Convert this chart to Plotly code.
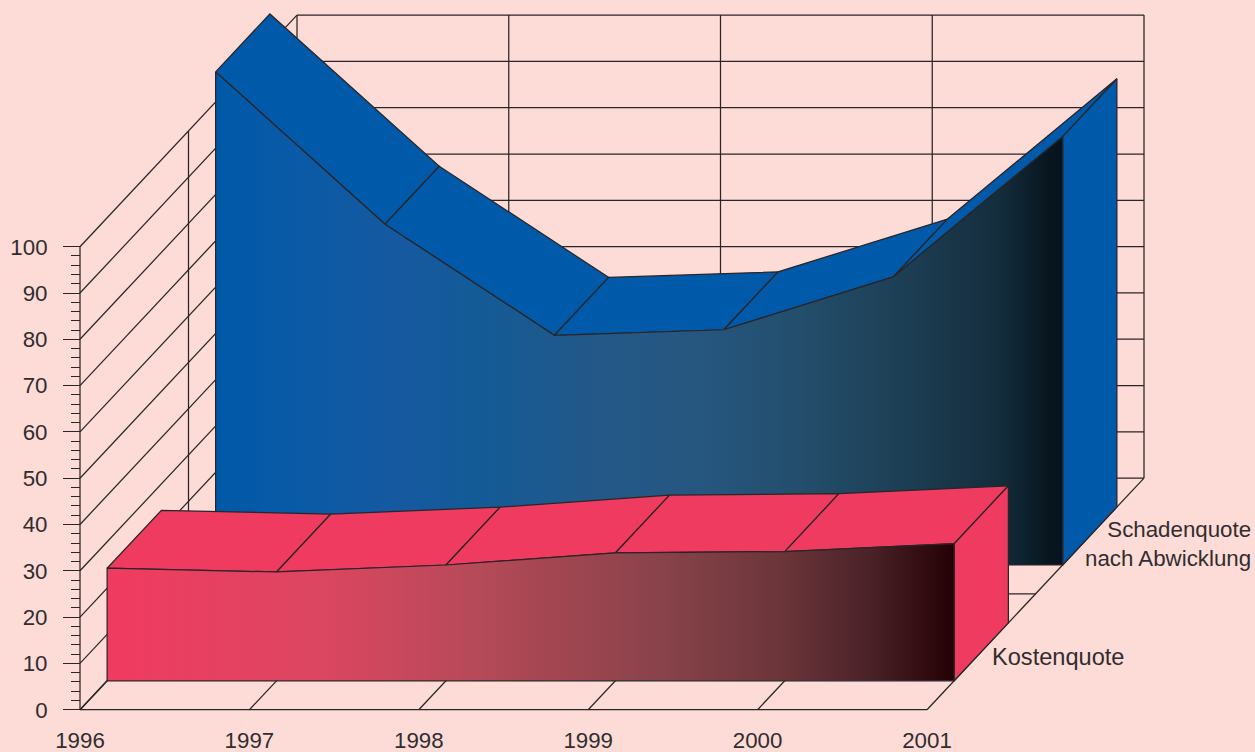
import plotly.graph_objects as go

# ---- data ----
years = [1996, 1997, 1998, 1999, 2000, 2001]
schadenquote = [106.5, 73.6, 49.6, 50.8, 62.2, 92.5]
kostenquote = [24.3, 23.5, 25.0, 27.6, 27.9, 29.6]
value_ticks = [0, 10, 20, 30, 40, 50, 60, 70, 80, 90, 100]
minor_ticks = [v for v in range(0, 101, 2) if v % 10]
series_label_schaden = "Schadenquote<br>nach Abwicklung"
series_label_kosten = "Kostenquote"

# ---- oblique 3-D projection onto the 2-D axes ----
W, H = 1255, 752
PX_YEAR, PX_VALUE = 169.4, 4.63
ORIGIN_X, ORIGIN_Y = 80.0, 709.7
DEPTH_X = 217 / PX_YEAR      # years of shift for full depth
DEPTH_Y = 231.6 / PX_VALUE   # value units of shift for full depth


def proj(year, value, depth):
    return year + depth * DEPTH_X, value + depth * DEPTH_Y


INK = "#2a2526"
BG = "#fddcd7"
BLUE = "#005aa9"
RED = "#f03b60"
BLUE_RAMP = [[0, "#0059a8"], [0.10, "#0a5aa6"], [0.22, "#1659a0"], [0.31, "#135b97"],
             [0.45, "#235888"], [0.57, "#26577f"], [0.69, "#234e6c"], [0.81, "#1d3f55"],
             [0.925, "#142d3d"], [0.985, "#08151f"], [1, "#051520"]]
RED_RAMP = [[0, "#f03b60"], [0.25, "#dc4660"], [0.45, "#b34a58"], [0.5, "#a84753"],
            [0.65, "#8a434b"], [0.8, "#6a3539"], [0.9, "#4a2228"], [1, "#240004"]]
LW = 1.25

fig = go.Figure()


def line3d(points, width=LW):
    xy = [proj(*p) for p in points]
    fig.add_trace(go.Scatter(x=[q[0] for q in xy], y=[q[1] for q in xy], mode="lines",
                             line=dict(color=INK, width=width), hoverinfo="skip", showlegend=False))


def poly3d(points, fillcolor=None, gradient=None):
    xy = [proj(*p) for p in points]
    xs = [q[0] for q in xy] + [xy[0][0]]
    ys = [q[1] for q in xy] + [xy[0][1]]
    kw = dict(fillgradient=dict(type="horizontal", colorscale=gradient)) if gradient else dict(fillcolor=fillcolor)
    fig.add_trace(go.Scatter(x=xs, y=ys, mode="lines", fill="toself",
                             line=dict(color=INK, width=LW), hoverinfo="skip", showlegend=False, **kw))


y0, y1 = years[0], years[-1]
vmin, vmax = value_ticks[0], value_ticks[-1]

# back wall
for v in value_ticks:
    line3d([(y0, v, 1), (y1, v, 1)])
for i in range(5):
    yr = y0 + (y1 - y0) * i / 4
    line3d([(yr, vmin, 1), (yr, vmax, 1)])
# left wall
for v in value_ticks:
    line3d([(y0, v, 0), (y0, v, 1)])
for d in (0, 0.5):
    line3d([(y0, vmin, d), (y0, vmax, d)])
# floor
for yr in years:
    line3d([(yr, 0, 0), (yr, 0, 1)])
for d in (0, 0.5):
    line3d([(y0, 0, d), (y1, 0, d)])


def area3d(values, d0, d1, face, ramp):
    # top faces, side face, then front face
    for k in range(len(years) - 1):
        poly3d([(years[k], values[k], d0), (years[k + 1], values[k + 1], d0),
                (years[k + 1], values[k + 1], d1), (years[k], values[k], d1)], fillcolor=face)
    poly3d([(y1, 0, d0), (y1, values[-1], d0), (y1, values[-1], d1), (y1, 0, d1)], fillcolor=face)
    poly3d([(y0, 0, d0)] + [(yr, v, d0) for yr, v in zip(years, values)] + [(y1, 0, d0)], gradient=ramp)


area3d(schadenquote, 0.625, 0.875, BLUE, BLUE_RAMP)
area3d(kostenquote, 0.125, 0.375, RED, RED_RAMP)

FONT = dict(family="Liberation Sans, Arial, sans-serif", size=22.3, color="#312d2e")
FONT_K = dict(FONT, size=23.6)

fig.update_layout(
    width=W, height=H, autosize=False,
    margin=dict(l=0, r=0, t=0, b=0, pad=0),
    paper_bgcolor=BG, plot_bgcolor=BG, showlegend=False,
    font=FONT,
    xaxis=dict(range=[y0 - ORIGIN_X / PX_YEAR, y0 + (W - ORIGIN_X) / PX_YEAR],
               domain=[0, 1], anchor="free", position=(H - ORIGIN_Y) / H, side="bottom",
               tickmode="array", tickvals=years, ticktext=[str(y) for y in years],
               ticks="outside", ticklen=11, tickcolor="rgba(0,0,0,0)", tickfont=FONT,
               showgrid=False, zeroline=False, showline=False, automargin=False),
    yaxis=dict(range=[(ORIGIN_Y - H) / PX_VALUE, ORIGIN_Y / PX_VALUE],
               domain=[0, 1], anchor="free", position=ORIGIN_X / W, side="left",
               tickmode="array", tickvals=value_ticks, ticktext=[str(v) for v in value_ticks],
               ticks="outside", ticklen=17, tickwidth=1.25, tickcolor=INK, tickfont=FONT,
               minor=dict(tickmode="array", tickvals=minor_ticks, ticks="outside", ticklen=9,
                          tickwidth=1.25, tickcolor=INK, showgrid=False),
               ticklabelstandoff=11,
               showgrid=False, zeroline=False, showline=False, automargin=False),
    annotations=[
        dict(text=series_label_schaden, xref="paper", yref="paper", x=1253 / W, y=1 - 544 / H,
             xanchor="right", yanchor="middle", align="right", showarrow=False, font=FONT),
        dict(text=series_label_kosten, xref="paper", yref="paper", x=990 / W, y=1 - 657 / H,
             xanchor="left", yanchor="middle", align="left", showarrow=False, font=FONT_K),
    ],
)

fig.write_html("out.html", config=dict(displayModeBar=False),
               post_script="document.body.style.margin='0';document.documentElement.style.background='%s';" % BG)
